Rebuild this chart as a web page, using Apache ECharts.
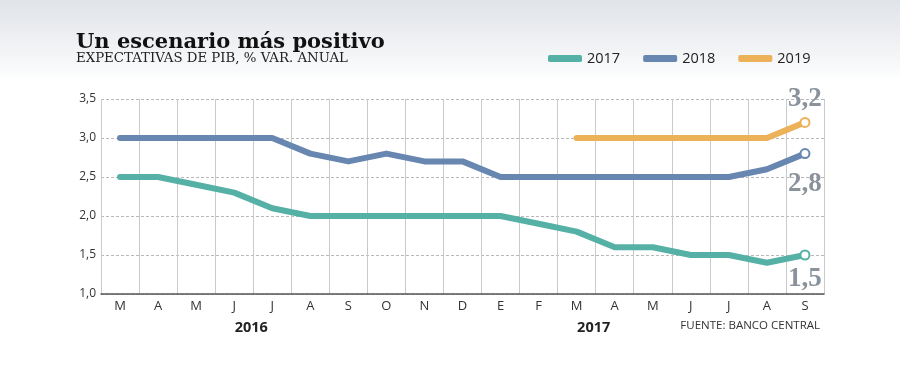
<!DOCTYPE html>
<html><head><meta charset="utf-8">
<script src="https://cdn.jsdelivr.net/npm/echarts@6/dist/echarts.min.js"></script>
<style>html,body{margin:0;padding:0;background:#fff}#c{width:900px;height:376px}</style>
</head><body><div id="c"></div>
<script>
const categories = ['M','A','M','J','J','A','S','O','N','D','E','F','M','A','M','J','J','A','S'];
const s2017 = [2.5,2.5,2.4,2.3,2.1,2.0,2.0,2.0,2.0,2.0,2.0,1.9,1.8,1.6,1.6,1.5,1.5,1.4,1.5];
const s2018 = [3.0,3.0,3.0,3.0,3.0,2.8,2.7,2.8,2.7,2.7,2.5,2.5,2.5,2.5,2.5,2.5,2.5,2.6,2.8];
const s2019 = [null,null,null,null,null,null,null,null,null,null,null,null,3.0,3.0,3.0,3.0,3.0,3.0,3.2];
const seriesNames = ['2017','2018','2019'];
const yearLabels = [{text:'2016', between:[3,4]},{text:'2017', between:[12,13]}];
const colors = ['#55b0a6','#6786b0','#edb15a'];
const endOffsets = [[0,24],[0,30],[0,-23]];

const chart = echarts.init(document.getElementById('c'));
function mkSeries(name, data, color, off){
  const last = data.length - 1;
  return {
    name, type:'line', data,
    color,
    lineStyle:{width:6, color, cap:'round', join:'round'},
    symbol:(v,p)=> p.dataIndex===last ? 'circle' : 'none',
    symbolSize:9,
    itemStyle:{color:'#fff', borderColor:color, borderWidth:2},
    showSymbol:true,
    connectNulls:false,
    animation:false,
    emphasis:{disabled:true},
    label:{
      show:true,
      formatter:p=> p.dataIndex===last ? String(p.value.toFixed(1)).replace('.',',') : '',
      position:'inside',
      offset:off,
      fontFamily:'Liberation Serif, serif', fontWeight:'bold', fontSize:27, color:'#8a939b'
    },
    z: 3
  };
}
const option = {
  animation:false,
  color:colors,
  graphic:[
    {type:'rect', z:-10, silent:true, shape:{x:0,y:0,width:900,height:80},
     style:{fill:new echarts.graphic.LinearGradient(0,0,0,1,[{offset:0,color:'#e0e3e8'},{offset:0.88,color:'#f9fafb'},{offset:1,color:'#ffffff'}])}},
    {type:'text', left:76, top:32, style:{text:'Un escenario más positivo', font:'bold 21px "DejaVu Serif", serif', fill:'#111'}},
    {type:'text', left:76, top:52, style:{text:'EXPECTATIVAS DE PIB, % VAR. ANUAL', font:'13.3px "DejaVu Serif", serif', fill:'#222'}},
    {type:'text', right:80, top:320, style:{text:'FUENTE: BANCO CENTRAL', font:'11.5px "Open Sans", sans-serif', fill:'#333'}}
  ],
  legend:{
    left:543, top:46, itemWidth:34, itemHeight:7, icon:'roundRect', itemGap:23,
    itemStyle:{borderWidth:0},
    textStyle:{fontFamily:'Open Sans, sans-serif', fontSize:14.5, color:'#222'},
    data:seriesNames.map((n,i)=>({name:n, itemStyle:{color:colors[i], borderWidth:0}}))
  },
  grid:{left:101, right:76, top:99, bottom:82, containLabel:false},
  xAxis:{
    type:'category', data:categories, boundaryGap:true,
    axisLine:{lineStyle:{color:'#555', width:1.5}},
    axisTick:{show:false},
    axisLabel:{fontFamily:'Open Sans, sans-serif', fontSize:13, color:'#333', margin:6, interval:0},
    splitLine:{show:true, interval:0, lineStyle:{color:'#cacaca', width:1}}
  },
  yAxis:{
    type:'value', min:1, max:3.5, interval:0.5,
    axisLine:{show:false}, axisTick:{show:false},
    axisLabel:{fontFamily:'Open Sans, sans-serif', fontSize:12, color:'#333', margin:5,
      formatter:v=>v.toFixed(1).replace('.',',')},
    splitLine:{lineStyle:{color:'#b8b8b8', type:[3,2], width:1}}
  },
  series:[
    mkSeries(seriesNames[0], s2017, colors[0], endOffsets[0]),
    mkSeries(seriesNames[1], s2018, colors[1], endOffsets[1]),
    mkSeries(seriesNames[2], s2019, colors[2], endOffsets[2])
  ]
};
chart.setOption(option);
const extra = yearLabels.map(y=>{
  const a = chart.convertToPixel({xAxisIndex:0}, y.between[0]);
  const b = chart.convertToPixel({xAxisIndex:0}, y.between[1]);
  return {type:'text', x:(a+b)/2-2, y:320, style:{text:y.text, font:'bold 14.5px "Open Sans", sans-serif', fill:'#222', align:'center'}};
});
chart.setOption({graphic:option.graphic.concat(extra)});
</script></body></html>
